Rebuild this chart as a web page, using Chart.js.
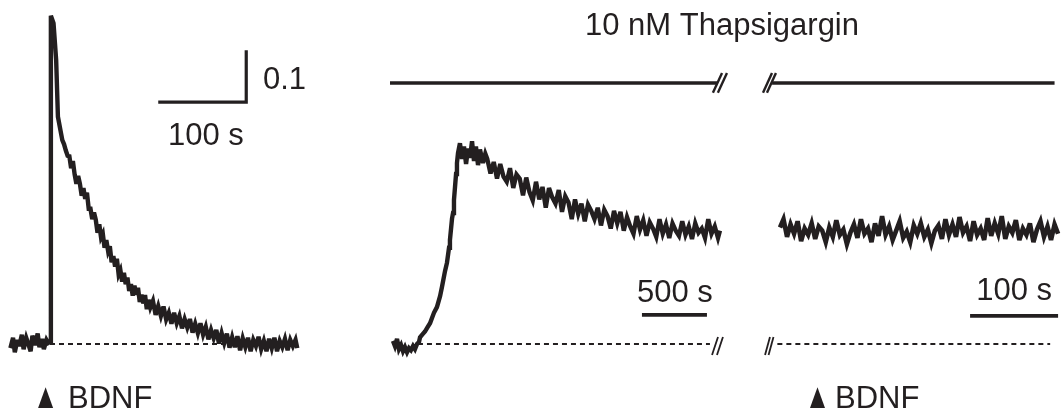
<!DOCTYPE html>
<html>
<head>
<meta charset="utf-8">
<script src="https://cdn.jsdelivr.net/npm/chart.js@4"></script>
<style>
  html, body { margin: 0; padding: 0; background: #fff; }
  #wrap { width: 1061px; height: 414px; }
</style>
</head>
<body>
<div id="wrap"><canvas id="chartCanvas" width="1061" height="414"></canvas></div>
<script>
// trace 1: control, BDNF at t = 0 (s), response in ratio units
const t1 = [-45, -42, -40, -37, -35, -32, -30, -27, -25, -22, -20, -17, -14, -12, -9, -7, -4, -2, 0,
  1, 4, 7, 9, 12, 14, 16, 18, 20,
  22, 24, 26, 28, 30, 32, 34, 36, 38, 40, 42, 44, 46, 48, 50, 52, 54, 56, 58, 60, 62, 64, 66, 68,
  70, 72, 74, 76, 78, 80, 82, 84, 86, 88, 90, 92, 94, 96, 98, 100, 102, 104, 106, 108, 110, 112, 114,
  117, 120, 123, 126, 129, 132, 135, 138, 141, 144, 147, 150, 153, 156, 159, 162, 165, 168, 171,
  174, 177, 180, 183, 186, 189, 192, 195, 198, 201, 204, 207, 210, 213, 216, 219,
  222, 225, 228, 231, 234, 237, 240, 243, 246, 249, 252, 255, 258, 261, 264, 267, 270, 273, 276, 279,
  281];
const v1 = [-0.008, 0.012, -0.016, 0.008, -0.004, 0.018, -0.010, 0.012, 0.002, -0.014, 0.016, -0.002, 0.020, -0.006, 0.010, -0.010, 0.008, 0.002, 0.004,
  0.631, 0.617, 0.546, 0.437, 0.410, 0.392, 0.384, 0.372, 0.362,
  0.361, 0.338, 0.352, 0.326, 0.308, 0.323, 0.308, 0.285, 0.300, 0.279, 0.291, 0.260, 0.260, 0.240, 0.253, 0.239, 0.214, 0.230, 0.205, 0.212, 0.185, 0.200, 0.179, 0.188,
  0.157, 0.169, 0.149, 0.164, 0.134, 0.142, 0.120, 0.137, 0.115, 0.128, 0.102, 0.115, 0.093, 0.112, 0.095, 0.108, 0.081, 0.095, 0.078, 0.094, 0.067, 0.085, 0.070,
  0.083, 0.056, 0.073, 0.054, 0.072, 0.047, 0.060, 0.039, 0.060, 0.040, 0.054, 0.030, 0.048, 0.032, 0.048, 0.022, 0.039, 0.021, 0.040,
  0.018, 0.033, 0.009, 0.027, 0.011, 0.027, 0.001, 0.021, 0.002, 0.020, -0.007, 0.013, -0.006, 0.015, -0.012, 0.011,
  -0.006, 0.012, -0.014, 0.008, -0.004, 0.014, -0.010, 0.006, -0.014, 0.010, -0.008, 0.012, -0.014, 0.006, -0.006, 0.010, -0.012, 0.008, -0.004, 0.008,
  -0.008];

// trace 2: thapsigargin, long recording (s)
const t2 = [0, 15, 31, 46, 62, 77, 92, 108, 123, 138, 154, 169, 185, 200,
  208, 225, 246, 265, 285, 300, 315, 338, 362, 377, 400, 415, 431, 438, 454, 462, 469, 477, 485, 492, 500,
  515, 531, 546, 562, 577, 592, 608, 623, 638, 654, 669, 692, 710,
  725, 750, 775, 800, 825, 850, 875, 900, 925, 950,
  975, 1000, 1025, 1050, 1075, 1100, 1125, 1150, 1175, 1200,
  1225, 1250, 1275, 1300, 1325, 1350, 1375, 1400, 1425, 1450,
  1475, 1500, 1525, 1550, 1575, 1600, 1625, 1650, 1675, 1700,
  1725, 1750, 1775, 1800, 1825, 1850, 1875, 1900, 1925, 1950,
  1975, 2000, 2025, 2050, 2075, 2100, 2125, 2150, 2175, 2200,
  2225, 2250, 2275, 2300, 2325, 2350, 2375, 2400, 2425, 2450,
  2475, 2500, 2515];
const v2 = [0.006, -0.004, 0.010, -0.010, -0.002, -0.014, -0.006, -0.016, -0.008, -0.012, -0.004, -0.010, 0.000, 0.004,
  0.013, 0.018, 0.024, 0.032, 0.040, 0.050, 0.060, 0.071, 0.092, 0.110, 0.140, 0.156, 0.185, 0.200, 0.241, 0.252, 0.277, 0.302, 0.327, 0.348, 0.367,
  0.386, 0.356, 0.380, 0.346, 0.376, 0.358, 0.390, 0.352, 0.380, 0.344, 0.374, 0.348, 0.366,
  0.356, 0.328, 0.350, 0.318, 0.346, 0.322, 0.312, 0.338, 0.300, 0.326,
  0.318, 0.286, 0.320, 0.292, 0.276, 0.312, 0.278, 0.302, 0.262, 0.300,
  0.282, 0.270, 0.296, 0.254, 0.284, 0.272, 0.240, 0.278, 0.250, 0.270,
  0.236, 0.268, 0.256, 0.240, 0.262, 0.228, 0.258, 0.246, 0.222, 0.256,
  0.232, 0.254, 0.218, 0.244, 0.226, 0.212, 0.246, 0.220, 0.238, 0.208,
  0.234, 0.222, 0.206, 0.240, 0.212, 0.230, 0.204, 0.232, 0.218, 0.208,
  0.236, 0.210, 0.226, 0.202, 0.232, 0.214, 0.222, 0.204, 0.240, 0.212,
  0.226, 0.204, 0.218];

// trace 3: thapsigargin, second BDNF application (s)
const t3 = [0, 4, 8, 12, 16, 20, 24, 28, 32, 36, 40, 44, 48, 52, 56, 60, 64, 68, 72, 76,
  80, 84, 88, 92, 96, 100, 104, 108, 112, 116, 120, 124, 128, 132, 136, 140, 144, 148, 152, 156,
  160, 164, 168, 172, 176, 180, 184, 188, 192, 196, 200, 204, 208, 212, 216, 220, 224, 228, 232, 236,
  240, 244, 248, 252, 256, 260, 264, 268, 272, 276, 280, 284, 288, 292, 296, 300, 304, 308, 312, 316];
const v3 = [0.224, 0.240, 0.206, 0.230, 0.212, 0.236, 0.198, 0.222, 0.210, 0.232, 0.202, 0.226, 0.218, 0.196, 0.224, 0.206, 0.238, 0.210, 0.220, 0.192,
  0.214, 0.230, 0.204, 0.240, 0.212, 0.222, 0.196, 0.232, 0.208, 0.246, 0.210, 0.226, 0.200, 0.218, 0.236, 0.204, 0.216, 0.196, 0.228, 0.212,
  0.232, 0.206, 0.220, 0.194, 0.218, 0.228, 0.202, 0.240, 0.210, 0.230, 0.206, 0.244, 0.214, 0.226, 0.198, 0.236, 0.210, 0.222, 0.200, 0.242,
  0.208, 0.232, 0.212, 0.246, 0.202, 0.226, 0.214, 0.238, 0.200, 0.222, 0.210, 0.232, 0.196, 0.220, 0.236, 0.206, 0.226, 0.200, 0.230, 0.212];

// baselines (dashed), scale bars, drug bar
const base1X = [0, 281];
const base2X = [192, 2438];
const base3X = [-3, 307];
const scale1X = [123, 223, 223];       // 100 s
const scale1Y = [0.465, 0.465, 0.565]; // 0.1
const scale2X = [1915, 2415];          // 500 s
const scale2Y = [0.056, 0.056];
const scale3X = [216, 316];            // 100 s
const scale3Y = [0.054, 0.054];
const drug2X = [-23, 2492];
const drug3X = [-9, 312];
const drugY = 0.502;

const INK = "#231f20";
const FONT = "31px 'Liberation Sans', Arial, sans-serif";

function pts(xs, ys) {
  return xs.map((x, i) => ({ x: x, y: Array.isArray(ys) ? ys[i] : ys }));
}

function line(xs, ys, axis, width, extra) {
  return Object.assign({
    data: pts(xs, ys),
    xAxisID: axis,
    borderColor: INK,
    borderWidth: width,
    pointRadius: 0,
    tension: 0,
    fill: false,
    clip: false,
    borderJoinStyle: "miter",
  }, extra || {});
}

function breakMark(x0, x1, y0, y1, gap, axis, width) {
  return [
    line([x0, x1], [y0, y1], axis, width, { borderCapStyle: "butt" }),
    line([x0 + gap, x1 + gap], [y0, y1], axis, width, { borderCapStyle: "butt" }),
  ];
}

const datasets = [
  line(t1, v1, "x1", 4.4),
  line(t2, v2, "x2", 4.4),
  line(t3, v3, "x3", 4.6),
  line(base1X, 0, "x1", 2, { borderDash: [5, 4] }),
  line(base2X, 0, "x2", 2, { borderDash: [5, 4] }),
  line(base3X, 0, "x3", 2, { borderDash: [5, 4] }),
  line(scale1X, scale1Y, "x1", 3.2),
  line(scale2X, scale2Y, "x2", 3.6),
  line(scale3X, scale3Y, "x3", 3.6),
  line(drug2X, drugY, "x2", 3.6),
  line(drug3X, drugY, "x3", 3.6),
]
  .concat(breakMark(2461, 2531, 0.483, 0.521, 38, "x2", 2.4))
  .concat(breakMark(-19.3, -9.1, 0.483, 0.521, 4.5, "x3", 2.4))
  .concat(breakMark(2454, 2500, -0.021, 0.0135, 38, "x2", 1.8))
  .concat(breakMark(-17, -11.4, -0.021, 0.0135, 4, "x3", 1.8));

const textLabels = [
  { text: "0.1", axis: "x1", x: 242, y: 0.490 },
  { text: "100 s", axis: "x1", x: 134, y: 0.383 },
  { text: "10 nM Thapsigargin", axis: "x2", x: 1477, y: 0.594 },
  { text: "500 s", axis: "x2", x: 1877, y: 0.081 },
  { text: "100 s", axis: "x3", x: 223, y: 0.085 },
  { text: "BDNF", axis: "x1", x: 20.5, y: -0.123 },
  { text: "BDNF", axis: "x3", x: 62.5, y: -0.123 },
];
const arrows = [
  { axis: "x1", x: -5, top: -0.083, bottom: -0.123 },
  { axis: "x3", x: 42.6, top: -0.083, bottom: -0.123 },
];

// keep the spikes of the noisy traces short
const miterPlugin = {
  id: "miter",
  beforeDatasetsDraw(chart) {
    chart.ctx.miterLimit = 4;
  },
};

const labelPlugin = {
  id: "labels",
  afterDatasetsDraw(chart) {
    const ctx = chart.ctx;
    const ys = chart.scales.y;
    ctx.save();
    ctx.fillStyle = INK;
    ctx.font = FONT;
    ctx.textAlign = "left";
    ctx.textBaseline = "alphabetic";
    textLabels.forEach((l) => {
      ctx.fillText(l.text, chart.scales[l.axis].getPixelForValue(l.x), ys.getPixelForValue(l.y));
    });
    arrows.forEach((a) => {
      const cx = chart.scales[a.axis].getPixelForValue(a.x);
      const top = ys.getPixelForValue(a.top);
      const bot = ys.getPixelForValue(a.bottom);
      ctx.beginPath();
      ctx.moveTo(cx, top);
      ctx.lineTo(cx + 7.5, bot);
      ctx.lineTo(cx - 7.5, bot);
      ctx.closePath();
      ctx.fill();
    });
    ctx.restore();
  },
};

const ctx = document.getElementById("chartCanvas").getContext("2d");
new Chart(ctx, {
  type: "line",
  data: { datasets: datasets },
  options: {
    animation: false,
    responsive: false,
    maintainAspectRatio: false,
    layout: { padding: 0 },
    plugins: {
      legend: { display: false },
      tooltip: { enabled: false },
    },
    scales: {
      x1: { type: "linear", display: false, min: -56.82, max: 1148.86 },
      x2: { type: "linear", display: false, min: -3023.08, max: 5138.46 },
      x3: { type: "linear", display: false, min: -886.36, max: 319.32 },
      y: { type: "linear", display: false, min: -0.1346, max: 0.6615 },
    },
  },
  plugins: [miterPlugin, labelPlugin],
});
</script>
</body>
</html>
